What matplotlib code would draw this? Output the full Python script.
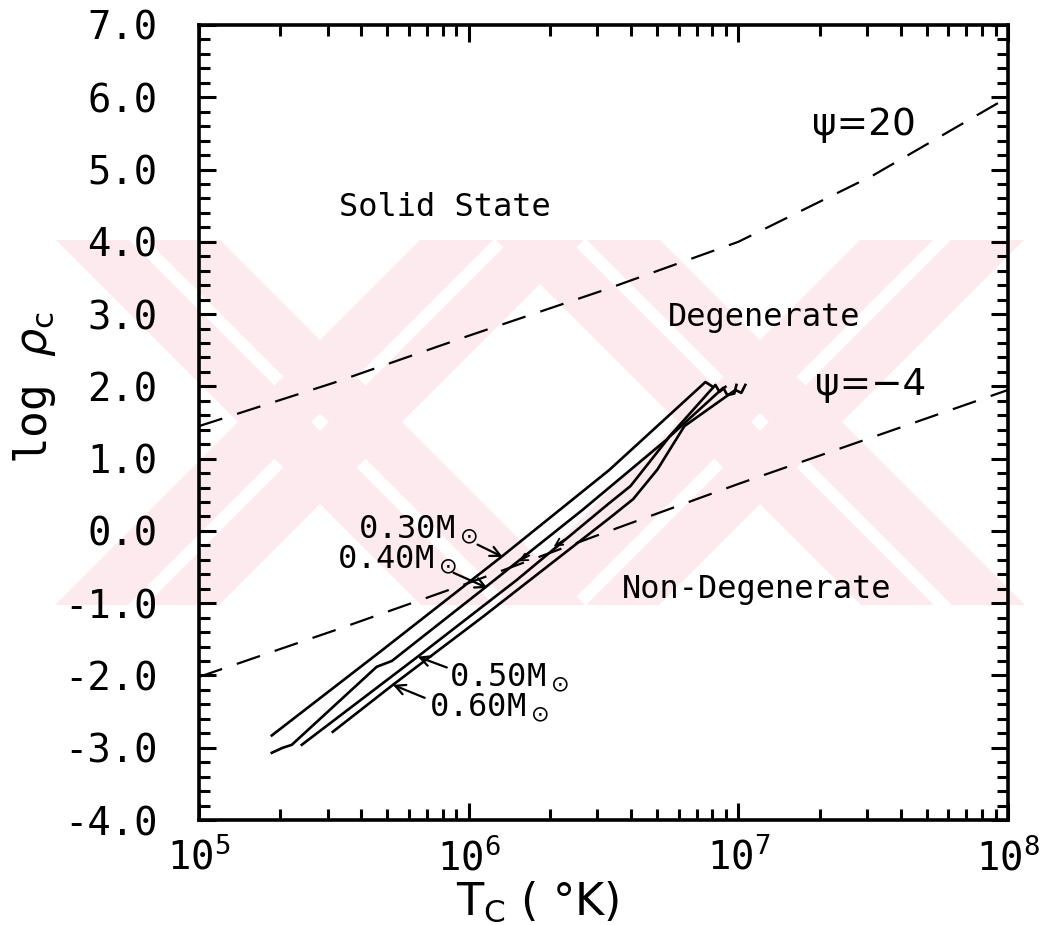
import matplotlib
matplotlib.use("Agg")
from matplotlib import pyplot as plt
from matplotlib.patches import Polygon
import numpy as np

# ---- data (log10 T, log10 rho) ----
logT_030 = [5.270, 5.681, 6.126, 6.522, 6.878, 6.900]
logrho_030 = [-2.83, -1.645, -0.345, 0.845, 2.06, 2.007]

logT_040 = [5.270, 5.311, 5.344, 5.659, 5.715, 6.052, 6.422, 6.733, 6.915, 6.930, 6.952]
logrho_040 = [-3.07, -3.00, -2.96, -1.88, -1.80, -0.81, 0.29, 1.26, 2.02, 1.924, 1.993]

logT_050 = [5.381, 5.811, 6.178, 6.520, 6.600, 6.744, 6.944, 6.959, 6.985, 6.993]
logrho_050 = [-2.96, -1.74, -0.68, 0.38, 0.62, 1.30, 1.98, 1.88, 1.90, 2.02]

logT_060 = [5.496, 5.719, 6.052, 6.530, 6.610, 6.700, 6.800, 6.989, 7.011, 7.026]
logrho_060 = [-2.78, -2.13, -1.19, 0.20, 0.44, 0.85, 1.45, 1.95, 1.91, 2.02]

logT_psi = [5.0, 5.5, 6.0, 6.5, 7.0, 7.5, 8.0]
psi20 = [1.45, 2.05, 2.70, 3.33, 4.00, 4.92, 6.0]
psim4 = [-2.02, -1.38, -0.72, -0.03, 0.65, 1.30, 1.95]

mass_labels = ["0.30", "0.40", "0.50", "0.60"]
label_pos = [(5.811, 0.015), (5.733, -0.40), (6.148, -2.03), (6.074, -2.45)]
arrow_tail = [(6.033, -0.19), (5.944, -0.58), (5.919, -1.89), (5.837, -2.31)]
arrow_tip = [(6.126, -0.36), (6.070, -0.79), (5.811, -1.74), (5.719, -2.13)]

# little direction arrows sitting on the 0.40 and 0.50 tracks
dir_tail = [(6.225, -0.34), (6.355, -0.12)]
dir_tip = [(6.185, -0.42), (6.315, -0.22)]

xtick_pow = [5, 6, 7, 8]
ytick_vals = [-4, -3, -2, -1, 0, 1, 2, 3, 4, 5, 6, 7]
ytick_labels = ["-4.0", "-3.0", "-2.0", "-1.0", "0.0", "1.0", "2.0",
                "3.0", "4.0", "5.0", "6.0", "7.0"]

MONO = "DejaVu Sans Mono"
W, H = 1052, 925

fig = plt.figure(figsize=(W / 100, H / 100), dpi=100)

# faint pink watermark behind everything
wm_col = "#fdeaee"
for cx in [320, 760]:
    for d in [1, -1]:
        for a, b in [(-82, -9), (9, 82)]:
            pts = []
            for yy, off in [(240, a), (240, b), (605, b), (605, a)]:
                xx = cx + d * (yy - 422) + off
                pts.append((xx / W, 1 - yy / H))
            fig.patches.append(Polygon(pts, closed=True, transform=fig.transFigure,
                                       facecolor=wm_col, edgecolor="none", zorder=-5))

ax = fig.add_axes([199 / W, 1 - 820 / H, (1008 - 199) / W, (820 - 25) / H])
ax.set_zorder(2)
ax.patch.set_alpha(0)

ax.set_xscale("log")
ax.set_xlim(1e5, 1e8)
ax.set_ylim(-4, 7)

lw = 1.9
for lt, lr in [(logT_030, logrho_030), (logT_040, logrho_040),
               (logT_050, logrho_050), (logT_060, logrho_060)]:
    ax.plot(10 ** np.array(lt), lr, color="black", linewidth=lw)

T_psi = 10 ** np.array(logT_psi)
ax.plot(T_psi, psi20, color="black", linewidth=1.6, dashes=(11, 7))
ax.plot(T_psi, psim4, color="black", linewidth=1.6, dashes=(11, 7))

txt = dict(family=MONO, fontsize=23, color="black", ha="center", va="center")
ax.text(10 ** 5.911, 4.47, "Solid State", **txt)
ax.text(10 ** 7.096, 2.95, "Degenerate", **txt)
ax.text(10 ** 7.067, -0.81, "Non-Degenerate", **txt)
ax.text(10 ** 7.467, 5.62, "\u03c8=20", family="DejaVu Sans", fontsize=27,
        ha="center", va="center")
ax.text(10 ** 7.49, 2.02, "\u03c8=\u22124", family="DejaVu Sans", fontsize=27,
        ha="center", va="center")

arr = dict(arrowstyle="->", color="black", lw=1.6, shrinkA=0, shrinkB=0,
           mutation_scale=18)
for m, (lx, ly), (tx, ty), (hx, hy) in zip(mass_labels, label_pos, arrow_tail, arrow_tip):
    ax.text(10 ** lx, ly, m + r"M$_\odot$", **txt)
    ax.annotate("", xy=(10 ** hx, hy), xytext=(10 ** tx, ty), arrowprops=arr)
for (tx, ty), (hx, hy) in zip(dir_tail, dir_tip):
    ax.annotate("", xy=(10 ** hx, hy), xytext=(10 ** tx, ty),
                arrowprops=dict(arr, lw=1.3, mutation_scale=13))

# ticks
ax.set_xticks([10.0 ** p for p in xtick_pow])
ax.set_xticklabels([r"$\mathregular{10^{%d}}$" % p for p in xtick_pow],
                   family=MONO, fontsize=28)
ax.xaxis.set_minor_locator(matplotlib.ticker.LogLocator(base=10, subs=np.arange(2, 10)))
ax.xaxis.set_minor_formatter(matplotlib.ticker.NullFormatter())
ax.set_yticks(ytick_vals)
ax.set_yticklabels(ytick_labels, family=MONO, fontsize=28)
ax.yaxis.set_minor_locator(matplotlib.ticker.MultipleLocator(0.2))

ax.tick_params(which="both", direction="in", top=True, right=True, width=2.2)
ax.tick_params(which="major", length=12)
ax.tick_params(which="minor", length=8)
ax.tick_params(axis="y", which="major", pad=30)
ax.tick_params(axis="x", which="major", pad=13)

for sp in ax.spines.values():
    sp.set_linewidth(2.6)

fig.text(35 / W, 1 - 388 / H, r"log $\rho_{\rm c}$", family=MONO, fontsize=32,
         rotation=90, ha="center", va="center")
fig.text(538 / W, 1 - 915 / H, r"T$_{\rm C}$ ( $\degree$K)", family="DejaVu Sans",
         fontsize=32, ha="center", va="baseline")

plt.savefig("out.png", dpi=100)
